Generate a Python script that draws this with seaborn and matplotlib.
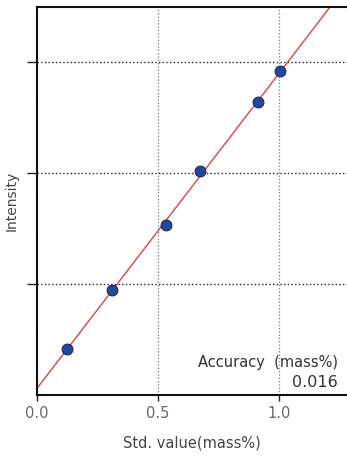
import matplotlib
matplotlib.use('Agg')
import matplotlib.pyplot as plt
import seaborn as sns
import pandas as pd

# calibration standards
std_value = [0.124, 0.31, 0.533, 0.674, 0.913, 1.004]
intensity = [0.415, 0.95, 1.53, 2.02, 2.64, 2.92]
x_ticks = [0.0, 0.5, 1.0]
x_tick_labels = ['0.0', '0.5', '1.0']
y_grid = [1, 2, 3]
accuracy = '0.016'

df = pd.DataFrame({'std': std_value, 'intensity': intensity})

sns.set_style('white')
plt.rcParams['font.family'] = ['DejaVu Sans']

fig = plt.figure(figsize=(3.47, 4.59), dpi=100)
ax = fig.add_axes([37 / 347, 64 / 459, 310 / 347, 388 / 459])

# 축 범위를 먼저 지정해야 truncate=False 회귀선이 끝까지 그려짐
ax.set_xlim(0, 1.28)
ax.set_ylim(0, 3.5)

# 회귀선 + 산점도
sns.regplot(x='std', y='intensity', data=df, ax=ax, ci=None, truncate=False,
            scatter_kws={'s': 60, 'color': '#23479a', 'edgecolor': '#1a2a55',
                         'linewidths': 0.8, 'alpha': 1, 'zorder': 3},
            line_kws={'color': '#d9454a', 'linewidth': 1.0, 'zorder': 2})
ax.set_xlim(0, 1.28)
ax.set_ylim(0, 3.5)

ax.set_xticks(x_ticks)
ax.set_xticklabels(x_tick_labels)
ax.set_yticks(y_grid)
ax.set_yticklabels([])
ax.grid(True, axis='y', linestyle=':', color='#222222', linewidth=1.0)
ax.grid(True, axis='x', linestyle=':', color='#777777', linewidth=0.9)
ax.tick_params(axis='x', bottom=True, direction='out', length=4, width=1,
               colors='#222222', labelcolor='#666666', labelsize=10.5, pad=4)
ax.tick_params(axis='y', left=True, direction='out', length=7, width=1,
               colors='#222222')

for s in ['left', 'bottom', 'top']:
    ax.spines[s].set_color('#111111')
    ax.spines[s].set_linewidth(1.5)
ax.spines['right'].set_visible(False)

ax.set_xlabel('Std. value(mass%)', fontsize=10.5, color='#444444', labelpad=10)
ax.set_ylabel('Intensity', fontsize=10, color='#444444')
ax.yaxis.set_label_coords(-0.058, 0.5)

ax.text(0.97, 0.085, 'Accuracy  (mass%)', transform=ax.transAxes, ha='right',
        va='center', fontsize=10.5, color='#333333')
ax.text(0.97, 0.033, accuracy, transform=ax.transAxes, ha='right',
        va='center', fontsize=11.5, color='#333333')

fig.savefig('out.png', dpi=100)
